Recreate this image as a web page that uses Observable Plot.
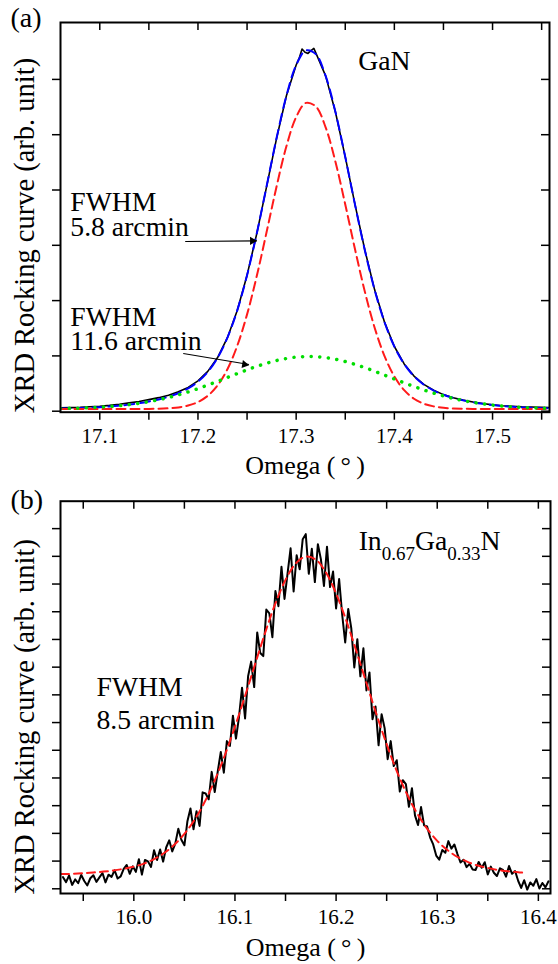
<!DOCTYPE html>
<html><head><meta charset="utf-8">
<script src="https://cdn.jsdelivr.net/npm/d3@7"></script>
<script src="https://cdn.jsdelivr.net/npm/@observablehq/plot@0.6"></script>
<style>
body{margin:0;background:#fff;}
#chart svg{display:block;}
</style></head><body><div id="chart"></div>
<script>
// ---------- Panel (a) data : GaN ----------
const omegaFitA = [17.06,17.07,17.08,17.09,17.10,17.11,17.12,17.13,17.14,17.15,17.16,17.17,17.18,17.19,17.20,17.21,17.22,17.23,17.24,17.25,17.26,17.27,17.28,17.29,17.30,17.31,17.32,17.33,17.34,17.35,17.36,17.37,17.38,17.39,17.40,17.41,17.42,17.43,17.44,17.45,17.46,17.47,17.48,17.49,17.50,17.51,17.52,17.53,17.54,17.55,17.56];
const narrowFitA = [0.040,0.040,0.040,0.040,0.040,0.040,0.040,0.040,0.041,0.042,0.045,0.053,0.069,0.103,0.166,0.279,0.467,0.760,1.183,1.751,2.453,3.248,4.059,4.785,5.319,5.575,5.510,5.134,4.511,3.738,2.923,2.158,1.506,0.997,0.628,0.381,0.226,0.136,0.087,0.061,0.049,0.044,0.041,0.040,0.040,0.040,0.040,0.040,0.040,0.040,0.040];
const broadFitA = [0.048,0.052,0.057,0.064,0.073,0.085,0.100,0.119,0.143,0.172,0.207,0.248,0.296,0.349,0.408,0.472,0.540,0.610,0.680,0.748,0.811,0.868,0.916,0.953,0.978,0.989,0.987,0.970,0.940,0.898,0.846,0.787,0.721,0.652,0.582,0.513,0.446,0.384,0.327,0.276,0.231,0.193,0.160,0.133,0.111,0.093,0.080,0.069,0.061,0.055,0.050];
const sumFitA = [0.048,0.052,0.057,0.064,0.073,0.085,0.100,0.119,0.144,0.176,0.213,0.261,0.325,0.412,0.534,0.711,0.967,1.330,1.823,2.459,3.224,4.076,4.935,5.698,6.257,6.524,6.457,6.064,5.411,4.596,3.729,2.905,2.187,1.609,1.170,0.854,0.633,0.480,0.374,0.297,0.240,0.196,0.161,0.133,0.111,0.093,0.080,0.069,0.061,0.055,0.050];
const omegaMeasA = [17.06,17.07,17.08,17.09,17.10,17.11,17.12,17.13,17.14,17.15,17.16,17.17,17.18,17.19,17.20,17.21,17.22,17.23,17.24,17.25,17.26,17.27,17.28,17.29,17.30,17.303,17.306,17.309,17.312,17.315,17.318,17.321,17.33,17.34,17.35,17.36,17.37,17.38,17.39,17.40,17.41,17.42,17.43,17.44,17.45,17.46,17.47,17.48,17.49,17.50,17.51,17.52,17.53,17.54,17.55,17.56];
const intensityA = [0.060,0.065,0.070,0.080,0.090,0.105,0.125,0.150,0.175,0.210,0.245,0.290,0.350,0.430,0.550,0.720,0.970,1.330,1.820,2.460,3.220,4.070,4.930,5.700,6.260,6.380,6.550,6.490,6.470,6.520,6.560,6.440,6.064,5.410,4.600,3.730,2.910,2.190,1.610,1.170,0.855,0.635,0.485,0.380,0.300,0.245,0.200,0.165,0.140,0.115,0.100,0.090,0.080,0.075,0.070,0.065];
const xTicksA = [17.1,17.15,17.2,17.25,17.3,17.35,17.4,17.45,17.5,17.55];
const yTicksA = [0,1,2,3,4,5,6];
const notesA = [
  {x: 17.07, y: 3.177, text: "FWHM\n5.8 arcmin"},
  {x: 17.07, y: 1.098, text: "FWHM\n11.6 arcmin"}
];
const arrowsA = [
  {x1: 17.187, y1: 3.07, x2: 17.260, y2: 3.08},
  {x1: 17.185, y1: 1.043, x2: 17.252, y2: 0.845}
];
const sampleA = [{x: 17.3632, y: 6.179, text: "GaN"}];

// ---------- Panel (b) data : InGaN ----------
const omegaFitB = [15.928,15.94,15.95,15.96,15.97,15.98,15.99,16.00,16.01,16.02,16.03,16.04,16.05,16.06,16.07,16.08,16.09,16.10,16.11,16.12,16.13,16.14,16.15,16.16,16.17,16.18,16.19,16.20,16.21,16.22,16.23,16.24,16.25,16.26,16.27,16.28,16.29,16.30,16.31,16.32,16.33,16.34,16.35,16.36,16.37,16.38,16.385];
const fitB = [0.53,0.54,0.56,0.59,0.62,0.66,0.72,0.80,0.91,1.07,1.29,1.59,1.98,2.49,3.13,3.91,4.82,5.85,6.96,8.12,9.26,10.30,11.15,11.74,11.99,11.88,11.42,10.66,9.69,8.58,7.43,6.29,5.22,4.25,3.42,2.73,2.17,1.73,1.40,1.15,0.97,0.84,0.75,0.68,0.63,0.60,0.58];
const omegaStartB = 15.930, omegaStepB = 0.003;
const intensityB = [
0.42,0.24,0.48,0.14,0.34,0.20,0.50,0.28,0.12,0.38,
0.49,0.25,0.41,0.57,0.23,0.51,0.43,0.67,0.37,0.45,
0.72,0.86,0.54,0.81,0.61,1.07,0.51,1.04,0.99,0.79,
1.39,1.04,1.42,0.98,1.49,1.75,1.35,1.63,2.17,1.77,
1.57,2.44,2.90,2.15,2.80,2.27,3.48,3.44,3.23,4.22,
3.49,4.24,4.94,4.19,5.33,5.16,6.25,5.42,6.20,7.26,
6.15,7.67,8.20,7.28,9.25,8.51,8.40,10.08,9.94,9.08,
10.75,10.20,11.62,10.46,11.38,12.29,10.73,12.04,11.53,12.62,
12.80,11.37,12.27,11.07,12.44,11.89,10.93,12.35,10.89,11.45,
10.12,11.18,9.90,8.89,10.10,9.41,7.99,9.01,7.67,8.68,
7.16,7.81,6.12,6.58,5.18,6.30,5.80,4.68,5.33,4.43,
4.64,3.51,3.92,3.78,2.96,3.63,2.65,2.30,2.95,2.29,
2.25,1.85,1.60,1.20,1.05,1.40,1.30,1.72,1.45,1.60,
1.25,0.95,1.05,0.78,0.90,0.70,0.68,0.97,0.76,0.96,
0.52,0.80,0.58,0.46,0.74,0.68,0.44,0.82,0.54,0.64,
0.29,0.03,0.31,-0.03,0.23,0.11,0.35,0.01,0.21,0.05,0.27];
const xTicksB = [15.95,16.0,16.05,16.1,16.15,16.2,16.25,16.3,16.35,16.4];
const yTicksB = [0,1,2,3,4,5,6,7,8,9,10,11,12,13];
const notesB = [{x: 15.9631, y: 5.776, text: "FWHM\n8.5 arcmin"}];
const sampleB = [{x: 16.2223, y: 12.238, text: "In0.67Ga0.33N"}];

const xTitle = "Omega (\u2009°\u2009)";
const yTitle = "XRD Rocking curve (arb. unit)";

// ---------- drawing ----------
const FONT = "Liberation Serif";
const W = 558;
const fmtTick = d => Math.abs(d * 10 - Math.round(d * 10)) < 1e-6 ? d.toFixed(1) : "";

function commonMarks(xTicks, yTicks, frameW, frameH, panelLabel, labelDy) {
  return [
    Plot.axisX({anchor: "bottom", ticks: xTicks, tickSize: 8, tickPadding: 8, fontSize: 21, fontFamily: FONT, tickFormat: fmtTick, label: null, strokeWidth: 1.5}),
    Plot.axisY({anchor: "left", ticks: yTicks, tickSize: 8, tickFormat: () => "", label: null, strokeWidth: 1.5}),
    Plot.tickX(xTicks, {x: d => d, insetBottom: frameH - 8, strokeWidth: 1.5}),
    Plot.tickY(yTicks, {y: d => d, insetLeft: frameW - 8, strokeWidth: 1.5}),
    Plot.frame({stroke: "black", strokeWidth: 2}),
    Plot.text([xTitle], {text: d => d, frameAnchor: "bottom", dy: 62, lineAnchor: "bottom", fontSize: 26, fontFamily: FONT}),
    Plot.text([yTitle], {text: d => d, frameAnchor: "bottom-left", dx: -27, dy: 1, rotate: -90, textAnchor: "start", lineAnchor: "bottom", fontSize: 28.5, fontFamily: FONT}),
    Plot.text([panelLabel], {text: d => d, frameAnchor: "top-left", dx: -50, dy: labelDy, textAnchor: "start", lineAnchor: "bottom", fontSize: 28, fontFamily: FONT})
  ];
}

// Panel (a)
const hA = 480, mTA = 22, mBA = 68.3, mLA = 60, mRA = 9;
const xDomA = [17.06, 17.558], yDomA = [-0.018, 7.029];
const sxA = Plot.scale({x: {domain: xDomA, range: [mLA, W - mRA]}});
const syA = Plot.scale({y: {domain: yDomA, range: [hA - mBA, mTA]}});
const headAngle = d => 90 + Math.atan2(syA.apply(d.y2) - syA.apply(d.y1), sxA.apply(d.x2) - sxA.apply(d.x1)) * 180 / Math.PI;
const fitRowsA = omegaFitA.map((x, i) => ({x, narrow: narrowFitA[i], broad: broadFitA[i], sum: sumFitA[i]}));
const measRowsA = omegaMeasA.map((x, i) => ({x, y: intensityA[i]}));
const plotA = Plot.plot({
  width: W, height: hA, marginTop: mTA, marginBottom: mBA, marginLeft: mLA, marginRight: mRA,
  style: {fontFamily: FONT, color: "black", background: "white", overflow: "visible"},
  x: {domain: xDomA},
  y: {domain: yDomA},
  marks: [
    Plot.line(measRowsA, {x: "x", y: "y", stroke: "black", strokeWidth: 1.6, clip: true}),
    Plot.line(fitRowsA, {x: "x", y: "sum", stroke: "#0000ff", strokeWidth: 2, strokeDasharray: "10 6", curve: "catmull-rom", clip: true}),
    Plot.line(fitRowsA, {x: "x", y: "narrow", stroke: "#ff1a1a", strokeWidth: 2, strokeDasharray: "9 5", curve: "catmull-rom", clip: true}),
    Plot.line(fitRowsA, {x: "x", y: "broad", stroke: "#00dd00", strokeWidth: 3.5, strokeDasharray: "0.1 8.5", strokeLinecap: "round", curve: "catmull-rom", clip: true}),
    Plot.link(arrowsA, {x1: "x1", y1: "y1", x2: "x2", y2: "y2", stroke: "black", strokeWidth: 1.1}),
    Plot.dot(arrowsA, {x: "x2", y: "y2", symbol: "triangle", r: 3, fill: "black", stroke: null, rotate: headAngle, dx: -4.5}),
    Plot.text(notesA, {x: "x", y: "y", text: "text", textAnchor: "start", lineAnchor: "bottom", lineHeight: 0.9, fontSize: 27.7, fontFamily: FONT}),
    Plot.text(sampleA, {x: "x", y: "y", text: "text", textAnchor: "start", lineAnchor: "bottom", fontSize: 27.7, fontFamily: FONT}),
    ...commonMarks(xTicksA, yTicksA, W - mLA - mRA, hA - mTA - mBA, "(a)", 4)
  ]
});

// Panel (b)
const hB = 484, mTB = 20.7, mBB = 71, mLB = 60, mRB = 8;
const fitRowsB = omegaFitB.map((x, i) => ({x, y: fitB[i]}));
const measRowsB = intensityB.map((y, i) => ({x: omegaStartB + i * omegaStepB, y}));
const plotB = Plot.plot({
  width: W, height: hB, marginTop: mTB, marginBottom: mBB, marginLeft: mLB, marginRight: mRB,
  style: {fontFamily: FONT, color: "black", background: "white", overflow: "visible"},
  x: {domain: [15.9275, 16.412]},
  y: {domain: [-0.17, 13.99]},
  marks: [
    Plot.line(measRowsB, {x: "x", y: "y", stroke: "black", strokeWidth: 2, clip: true}),
    Plot.line(fitRowsB, {x: "x", y: "y", stroke: "#ff1a1a", strokeWidth: 2, strokeDasharray: "8 5", curve: "catmull-rom", clip: true}),
    Plot.text(notesB, {x: "x", y: "y", text: "text", textAnchor: "start", lineAnchor: "bottom", lineHeight: 1.18, fontSize: 27.7, fontFamily: FONT}),
    Plot.text(sampleB, {x: "x", y: "y", text: "text", textAnchor: "start", lineAnchor: "bottom", fontSize: 27.7, fontFamily: FONT}),
    ...commonMarks(xTicksB, yTicksB, W - mLB - mRB, hB - mTB - mBB, "(b)", 7.3)
  ]
});

// subscripts for the InGaN formula
plotB.querySelectorAll("text").forEach(t => {
  if (t.textContent === "In0.67Ga0.33N") {
    const parts = [["In", false], ["0.67", true], ["Ga", false], ["0.33", true], ["N", false]];
    t.textContent = "";
    let prevSub = false;
    for (const [s, sub] of parts) {
      const ts = document.createElementNS("http://www.w3.org/2000/svg", "tspan");
      ts.textContent = s;
      if (sub) ts.setAttribute("font-size", "19");
      if (sub && !prevSub) ts.setAttribute("dy", "10.7");
      if (!sub && prevSub) ts.setAttribute("dy", "-10.7");
      prevSub = sub;
      t.appendChild(ts);
    }
  }
});

const chart = document.getElementById("chart");
chart.appendChild(plotA);
chart.appendChild(plotB);
</script></body></html>
